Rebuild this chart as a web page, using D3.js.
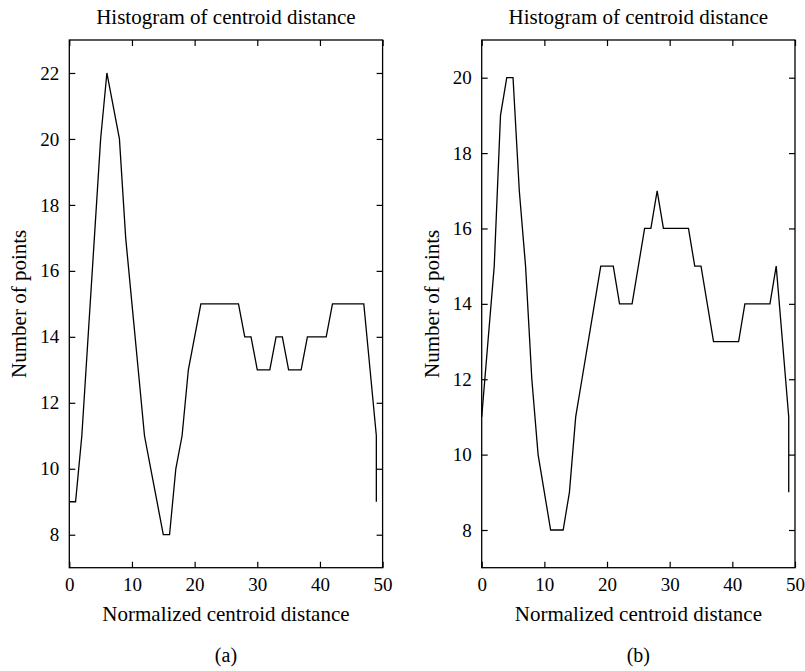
<!DOCTYPE html>
<html>
<head>
<meta charset="utf-8">
<script src="https://cdn.jsdelivr.net/npm/d3@7"></script>
<style>
  body { margin: 0; background: #fff; }
  svg { display: block; }
  .axis text { font-family: "Liberation Serif", "DejaVu Serif", serif; font-size: 19px; fill: #000; }
  .axis line { stroke: #000; stroke-width: 1.2; }
</style>
</head>
<body>
<svg id="chart"></svg>
<script>
// bin positions (last bin repeated for the closing drop)
var binPos = [0,1,2,3,4,5,6,7,8,9,10,11,12,13,14,15,16,17,18,19,20,21,22,23,24,25,26,27,28,29,
  30,31,32,33,34,35,36,37,38,39,40,41,42,43,44,45,46,47,48,49,49];
var countsA = [9,9,11,14,17,20,22,21,20,17,15,13,11,10,9,8,8,10,11,13,14,15,15,15,15,15,15,15,14,14,
  13,13,13,14,14,13,13,13,14,14,14,14,15,15,15,15,15,15,13,11,9];
var countsB = [11,13,15,19,20,20,17,15,12,10,9,8,8,8,9,11,12,13,14,15,15,15,14,14,14,15,16,16,17,16,
  16,16,16,16,15,15,14,13,13,13,13,13,14,14,14,14,14,15,13,11,9];
var xTicks = [0,10,20,30,40,50];
var yTicksA = [8,10,12,14,16,18,20,22];
var yTicksB = [8,10,12,14,16,18,20];
var yDomainA = [7,23];
var yDomainB = [7,21];
var xDomain = [0,50];

var width = 805, height = 671;
var font = '"Liberation Serif", "DejaVu Serif", serif';

var svg = d3.select("#chart").attr("width", width).attr("height", height);
svg.append("rect").attr("width", width).attr("height", height).attr("fill", "#fff");

function drawPanel(left, counts, yDomain, yTicks, tag) {
  var top = 40, bottom = 567.7, w = 313.3;
  var g = svg.append("g");

  var x = d3.scaleLinear().domain(xDomain).range([left, left + w]);
  var y = d3.scaleLinear().domain(yDomain).range([bottom, top]);

  // bottom axis with labels, top mirrored ticks
  g.append("g").attr("class", "axis")
    .attr("transform", "translate(0," + bottom + ")")
    .call(d3.axisBottom(x).tickValues(xTicks).tickSizeInner(-6).tickSizeOuter(0).tickPadding(10))
    .call(function (s) { s.select(".domain").remove(); });
  g.append("g").attr("class", "axis")
    .attr("transform", "translate(0," + top + ")")
    .call(d3.axisTop(x).tickValues(xTicks).tickSizeInner(-6).tickSizeOuter(0).tickFormat(""))
    .call(function (s) { s.select(".domain").remove(); });

  // left axis with labels, right mirrored ticks
  g.append("g").attr("class", "axis")
    .attr("transform", "translate(" + left + ",0)")
    .call(d3.axisLeft(y).tickValues(yTicks).tickSizeInner(-6).tickSizeOuter(0).tickPadding(10))
    .call(function (s) { s.select(".domain").remove(); });
  g.append("g").attr("class", "axis")
    .attr("transform", "translate(" + (left + w) + ",0)")
    .call(d3.axisRight(y).tickValues(yTicks).tickSizeInner(-6).tickSizeOuter(0).tickFormat(""))
    .call(function (s) { s.select(".domain").remove(); });

  g.selectAll(".axis").attr("font-family", font);

  g.append("rect")
    .attr("x", left).attr("y", top)
    .attr("width", w).attr("height", bottom - top)
    .attr("fill", "none").attr("stroke", "#000").attr("stroke-width", 1.3);

  var pts = binPos.map(function (b, i) { return { x: b, y: counts[i] }; });
  var line = d3.line()
    .x(function (d) { return x(d.x); })
    .y(function (d) { return y(d.y); });
  g.append("path")
    .attr("d", line(pts))
    .attr("fill", "none")
    .attr("stroke", "#000")
    .attr("stroke-width", 1.3)
    .attr("stroke-linejoin", "miter");

  var cx = left + w / 2;
  var labels = [
    { t: "Histogram of centroid distance", x: cx, y: 24, size: 21 },
    { t: "Normalized centroid distance", x: cx, y: 621, size: 21 },
    { t: tag, x: cx, y: 662, size: 20 }
  ];
  labels.forEach(function (l) {
    g.append("text")
      .attr("x", l.x).attr("y", l.y)
      .attr("text-anchor", "middle")
      .attr("font-family", font).attr("font-size", l.size)
      .text(l.t);
  });
  g.append("text")
    .attr("transform", "translate(" + (left - 43) + "," + ((top + bottom) / 2) + ")rotate(-90)")
    .attr("text-anchor", "middle")
    .attr("font-family", font).attr("font-size", 21)
    .text("Number of points");
}

drawPanel(69.3, countsA, yDomainA, yTicksA, "(a)");
drawPanel(481.7, countsB, yDomainB, yTicksB, "(b)");
</script>
</body>
</html>
